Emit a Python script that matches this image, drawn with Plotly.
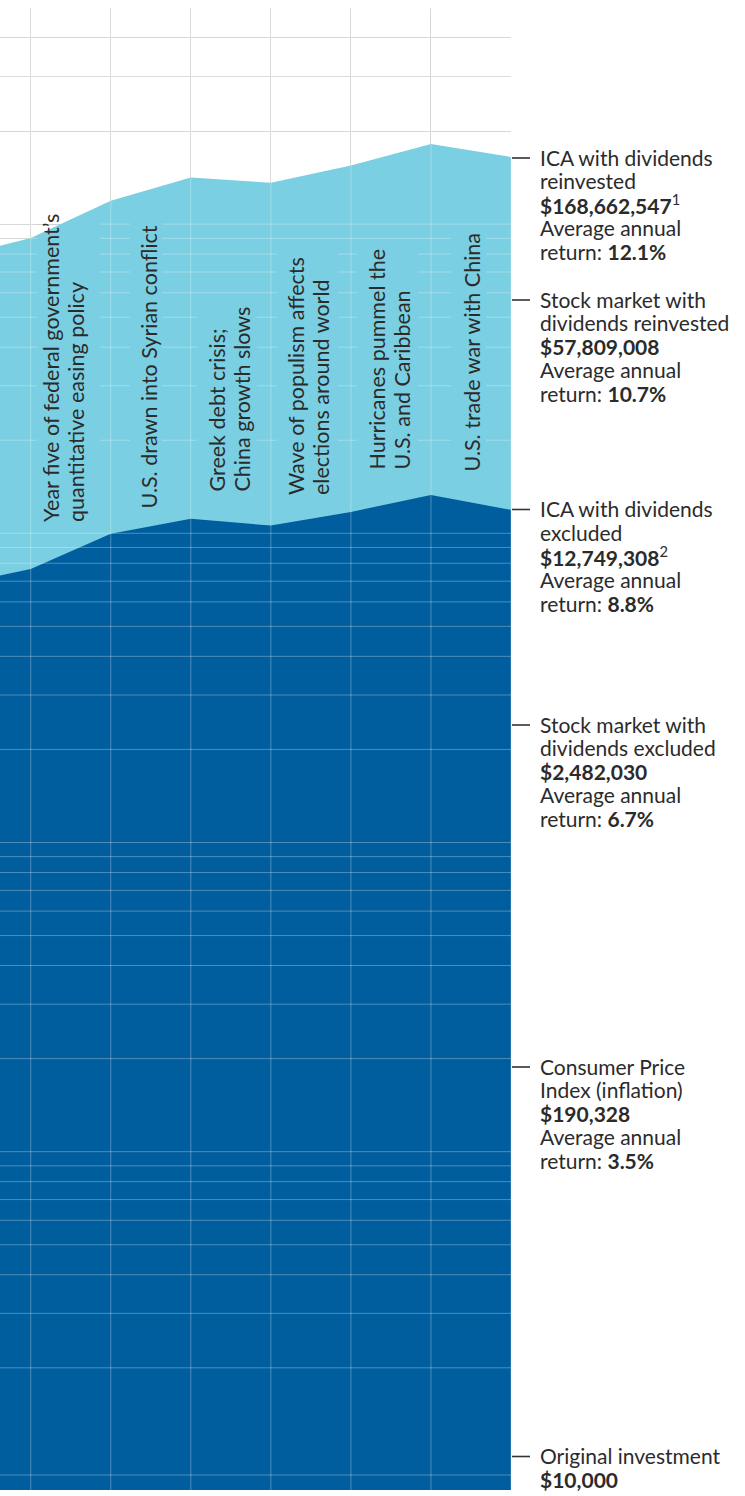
import math
import plotly.graph_objects as go

# ---------------- data ----------------
years = [2011, 2012, 2013, 2014, 2015, 2016, 2017, 2018]
ica_dividends_reinvested = [77.6e6, 90.1e6, 119.0e6, 141.5e6, 136.0e6, 154.7e6, 181.5e6, 164.8e6]
ica_dividends_excluded = [6.76e6, 7.66e6, 9.96e6, 11.14e6, 10.59e6, 11.73e6, 13.29e6, 11.91e6]

year_gridlines = [2012, 2013, 2014, 2015, 2016, 2017, 2018]
value_gridlines = [9e3, 2e4, 3e4, 4e4, 5e4, 6e4, 7e4, 8e4, 9e4,
                   1e5, 2e5, 3e5, 4e5, 5e5, 6e5, 7e5, 8e5, 9e5,
                   1e6, 2e6, 3e6, 4e6, 5e6, 6e6, 7e6, 8e6, 9e6,
                   1e7, 2e7, 3e7, 4e7, 5e7, 6e7, 7e7, 8e7, 9e7,
                   1e8, 2e8, 3e8, 4e8, 5e8]

event_texts = [
    ["Year five of federal government\u2019s", "quantitative easing policy"],
    ["U.S. drawn into Syrian conflict"],
    ["Greek debt crisis;", "China growth slows"],
    ["Wave of populism affects", "elections around world"],
    ["Hurricanes pummel the", "U.S. and Caribbean"],
    ["U.S. trade war with China"],
]

label_texts = [
    ["ICA with dividends", "reinvested", "<b>$168,662,547</b><sup>1</sup>", "Average annual", "return: <b>12.1%</b>"],
    ["Stock market with", "dividends reinvested", "<b>$57,809,008</b>", "Average annual", "return: <b>10.7%</b>"],
    ["ICA with dividends", "excluded", "<b>$12,749,308</b><sup>2</sup>", "Average annual", "return: <b>8.8%</b>"],
    ["Stock market with", "dividends excluded", "<b>$2,482,030</b>", "Average annual", "return: <b>6.7%</b>"],
    ["Consumer Price", "Index (inflation)", "<b>$190,328</b>", "Average annual", "return: <b>3.5%</b>"],
    ["Original investment", "<b>$10,000</b>"],
]

# ---------------- layout geometry (pixels) ----------------
W, H = 745, 1496
M_L, M_R, M_T, M_B = 0, 234, 8, 6
PW, PH = W - M_L - M_R, H - M_T - M_B
X_RANGE = [2011.616, 2018.0]
Y_RANGE = [math.log10(8050), math.log10(5e8)]

LIGHT = "#7ACFE2"
DARK = "#005D9E"
TEXT = "#2b2b2b"
FONT = "Lato"


def xp(px):
    return (px - M_L) / PW


def yp(py):
    return (M_T + PH - py) / PH


def px_to_x(px):
    return X_RANGE[0] + (px - M_L) / PW * (X_RANGE[1] - X_RANGE[0])


def value_to_py(v):
    return M_T + (Y_RANGE[1] - math.log10(v)) / (Y_RANGE[1] - Y_RANGE[0]) * PH


# event label placement: per line centre x (px), common bottom y (px), gap box
event_pos = [
    dict(cx=[51, 76], bottom=523, box=(37, 100, 195, 527)),
    dict(cx=[149], bottom=510, box=(130, 162, 217, 514)),
    dict(cx=[216, 241], bottom=493, box=(197, 257, 299, 497)),
    dict(cx=[296, 321], bottom=496, box=(277, 338, 243, 500)),
    dict(cx=[376, 401], bottom=471, box=(357, 418, 243, 475)),
    dict(cx=[471], bottom=473, box=(451, 486, 226, 477)),
]
label_ticks_py = [158, 300, 509.5, 725, 1067, 1456.5]
LABEL_FS = 21
EVENT_FS = 21.5
LINE_STEP = 23.6

fig = go.Figure()

fig.add_trace(go.Scatter(x=years, y=ica_dividends_reinvested, mode="lines",
                         line=dict(width=0, color=LIGHT), fill="tozeroy",
                         fillcolor=LIGHT, hoverinfo="skip", showlegend=False))
fig.add_trace(go.Scatter(x=years, y=ica_dividends_excluded, mode="lines",
                         line=dict(width=0, color=DARK), fill="tozeroy",
                         fillcolor=DARK, hoverinfo="skip", showlegend=False))

# light overlay grid lines above the areas (broken behind event texts)
ox, oy = [], []
for v in value_gridlines:
    py = value_to_py(v)
    cuts = sorted([ep["box"][:2] for ep in event_pos if ep["box"][2] <= py <= ep["box"][3]])
    start = M_L
    for a, b in cuts:
        ox += [px_to_x(start), px_to_x(a), None]
        oy += [v, v, None]
        start = b
    ox += [px_to_x(start), X_RANGE[1], None]
    oy += [v, v, None]
for yr in year_gridlines:
    ox += [yr, yr, None]
    oy += [10 ** Y_RANGE[0], 10 ** Y_RANGE[1], None]
fig.add_trace(go.Scatter(x=ox, y=oy, mode="lines",
                         line=dict(width=1, color="rgba(255,255,255,0.30)"),
                         hoverinfo="skip", showlegend=False, connectgaps=False))

annotations = []
for lines, ep in zip(event_texts, event_pos):
    for txt, cx in zip(lines, ep["cx"]):
        annotations.append(dict(
            text=txt, textangle=-90, xref="paper", yref="paper",
            x=xp(cx), y=yp(ep["bottom"]), xanchor="center", yanchor="bottom",
            showarrow=False, borderpad=0,
            font=dict(family=FONT, size=EVENT_FS, color=TEXT)))

shapes = []
for lines, tpy in zip(label_texts, label_ticks_py):
    shapes.append(dict(type="line", xref="paper", yref="paper",
                       x0=xp(512), x1=xp(530), y0=yp(tpy), y1=yp(tpy),
                       line=dict(color="#333333", width=1.6)))
    for i, txt in enumerate(lines):
        baseline = tpy + 7.3 + i * LINE_STEP
        annotations.append(dict(
            text=txt, xref="paper", yref="paper",
            x=xp(539), y=yp(baseline - 0.387 * LABEL_FS),
            xanchor="left", yanchor="middle", showarrow=False, borderpad=0,
            font=dict(family=FONT, size=LABEL_FS, color=TEXT)))

fig.update_layout(
    width=W, height=H,
    margin=dict(l=M_L, r=M_R, t=M_T, b=M_B, pad=0),
    paper_bgcolor="white", plot_bgcolor="white",
    showlegend=False,
    xaxis=dict(range=X_RANGE, tickvals=year_gridlines, showticklabels=False,
               showgrid=True, gridcolor="#d0d0d0", gridwidth=1, zeroline=False,
               showline=False, ticks="", fixedrange=True),
    yaxis=dict(type="log", range=Y_RANGE, tickvals=value_gridlines, showticklabels=False,
               showgrid=True, gridcolor="#d0d0d0", gridwidth=1, zeroline=False,
               showline=False, ticks="", fixedrange=True),
    annotations=annotations,
    shapes=shapes,
)

fig.write_html("out.html")
